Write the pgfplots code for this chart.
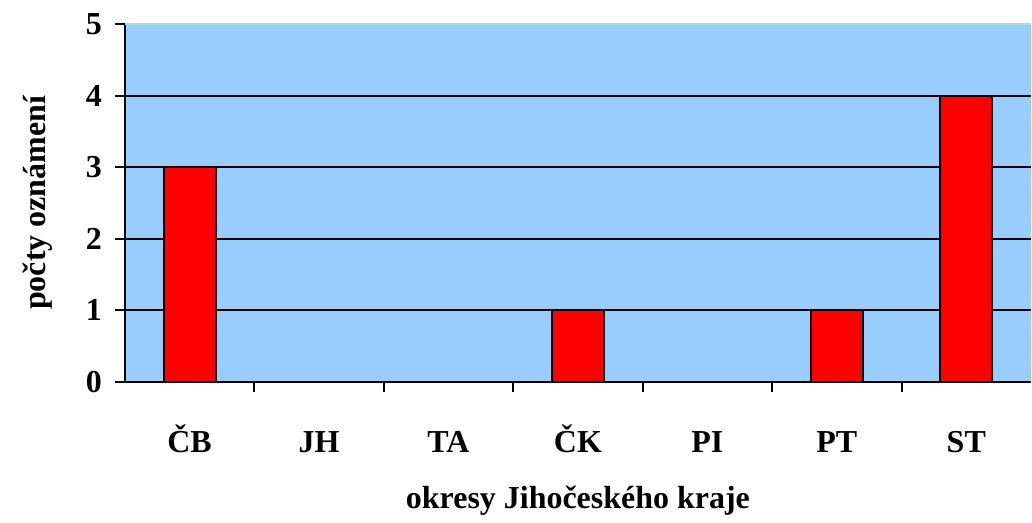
\documentclass[border=0pt]{standalone}
\usepackage{fontspec}
\setmainfont{Liberation Serif}
\usepackage{pgfplots}
\pgfplotsset{compat=1.18}
\definecolor{plotbg}{RGB}{153,204,255}
\definecolor{topline}{RGB}{175,215,220}
\begin{document}
\begin{tikzpicture}
\path (-62.5pt,-67.5pt) rectangle (453.5pt,191pt);
\begin{axis}[
    scale only axis,
    width=453.5pt, height=179pt,
    at={(0,0)}, anchor=south west,
    xmin=-0.5, xmax=6.5,
    ymin=0, ymax=5,
    axis x line*=bottom, axis y line*=left,
    axis line style={-, line width=1pt},
    axis background/.style={fill=plotbg},
    xtick={0,...,6},
    xticklabels={ČB,JH,TA,ČK,PI,PT,ST},
    major x tick style={draw=none},
    minor xtick={0.5,1.5,...,5.5},
    minor x tick style={draw=black, line width=1pt},
    minor tick length=5pt,
    ytick={0,1,2,3,4},
    extra y ticks={5},
    extra y tick style={grid style={topline, line width=1pt}},
    major tick length=5pt,
    tick align=outside,
    y tick style={line width=1pt, black},
    ymajorgrids=true,
    grid style={black, line width=1pt},
    xticklabel style={font=\fontsize{16}{18}\selectfont\bfseries, anchor=base, yshift=-30.5pt},
    yticklabel style={font=\fontsize{16}{18}\selectfont\bfseries, anchor=east, xshift=-3pt},
    /pgf/number format/assume math mode=true,
    xlabel={okresy Jihočeského kraje},
    ylabel={počty oznámení},
    every axis x label/.style={at={(axis description cs:0.5,-0.355)}, anchor=base, font=\fontsize{16}{18}\selectfont\bfseries},
    every axis y label/.style={at={(axis description cs:-0.096,0.5)}, rotate=90, anchor=center, font=\fontsize{16}{18}\selectfont\bfseries},
    ybar, bar width=26pt, bar shift=0pt,
]
\addplot[draw=black, line width=1pt, fill=red] coordinates {(0,3) (3,1) (5,1) (6,4)};
\end{axis}
\end{tikzpicture}
\end{document}
